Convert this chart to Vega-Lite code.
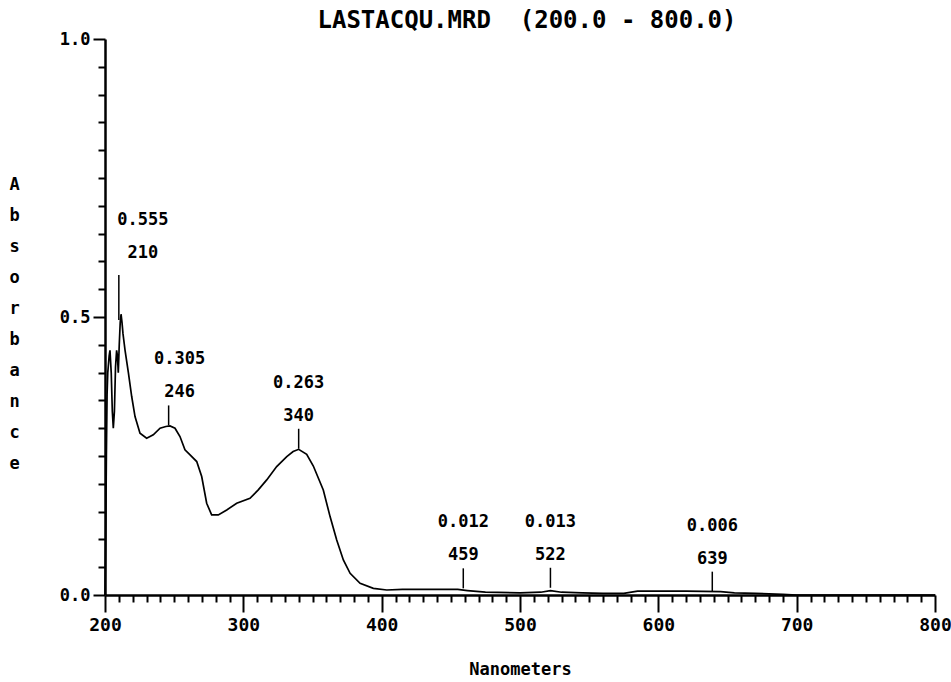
{
  "$schema": "https://vega.github.io/schema/vega-lite/v6.json",
  "width": 830,
  "height": 556,
  "autosize": {"type": "none"},
  "padding": {"left": 105, "top": 39, "right": 16, "bottom": 87},
  "background": "white",
  "config": {"view": {"stroke": null}, "font": "DejaVu Sans Mono"},
  "title": {"text": "LASTACQU.MRD\u00a0\u00a0(200.0 - 800.0)", "anchor": "middle", "dx": 7, "dy": 29, "offset": 7, "baseline": "alphabetic", "font": "DejaVu Sans Mono", "fontSize": 24, "fontWeight": "bold", "color": "black"},
  "datasets": {
    "spectrum": [
      {"nm": 200, "abs": 0.0}, {"nm": 200.5, "abs": 0.1}, {"nm": 201, "abs": 0.25}, {"nm": 201.5, "abs": 0.36},
      {"nm": 202, "abs": 0.4}, {"nm": 203, "abs": 0.43}, {"nm": 203.6, "abs": 0.44}, {"nm": 204.5, "abs": 0.4},
      {"nm": 205.3, "abs": 0.33}, {"nm": 206, "abs": 0.3}, {"nm": 206.8, "abs": 0.33}, {"nm": 207.6, "abs": 0.41},
      {"nm": 208.4, "abs": 0.44}, {"nm": 209, "abs": 0.43}, {"nm": 209.6, "abs": 0.4}, {"nm": 210.3, "abs": 0.45},
      {"nm": 211, "abs": 0.49}, {"nm": 211.6, "abs": 0.505}, {"nm": 212.3, "abs": 0.49}, {"nm": 213, "abs": 0.47},
      {"nm": 214.5, "abs": 0.44}, {"nm": 216.9, "abs": 0.4}, {"nm": 219.3, "abs": 0.357}, {"nm": 221.7, "abs": 0.321},
      {"nm": 225.3, "abs": 0.291}, {"nm": 230.1, "abs": 0.282}, {"nm": 234.9, "abs": 0.288}, {"nm": 239.8, "abs": 0.3},
      {"nm": 244, "abs": 0.303}, {"nm": 247, "abs": 0.304}, {"nm": 250.6, "abs": 0.3}, {"nm": 254.2, "abs": 0.285},
      {"nm": 257.8, "abs": 0.261}, {"nm": 261.5, "abs": 0.252}, {"nm": 266.3, "abs": 0.24}, {"nm": 269.9, "abs": 0.213},
      {"nm": 273.5, "abs": 0.165}, {"nm": 277.1, "abs": 0.144}, {"nm": 281.9, "abs": 0.144}, {"nm": 288, "abs": 0.153},
      {"nm": 295.2, "abs": 0.165}, {"nm": 304.8, "abs": 0.174}, {"nm": 310.8, "abs": 0.189}, {"nm": 316.9, "abs": 0.207},
      {"nm": 324.1, "abs": 0.231}, {"nm": 331.4, "abs": 0.249}, {"nm": 336, "abs": 0.258}, {"nm": 340, "abs": 0.262},
      {"nm": 345.8, "abs": 0.253}, {"nm": 350.6, "abs": 0.232}, {"nm": 357.8, "abs": 0.189}, {"nm": 362.7, "abs": 0.141},
      {"nm": 367.5, "abs": 0.099}, {"nm": 372.3, "abs": 0.063}, {"nm": 377.2, "abs": 0.039}, {"nm": 384.4, "abs": 0.021},
      {"nm": 394, "abs": 0.012}, {"nm": 403.7, "abs": 0.009}, {"nm": 415, "abs": 0.01}, {"nm": 440, "abs": 0.01},
      {"nm": 455, "abs": 0.01}, {"nm": 462, "abs": 0.008}, {"nm": 475, "abs": 0.005}, {"nm": 500, "abs": 0.004},
      {"nm": 515, "abs": 0.005}, {"nm": 522, "abs": 0.008}, {"nm": 530, "abs": 0.005}, {"nm": 545, "abs": 0.004},
      {"nm": 560, "abs": 0.003}, {"nm": 575, "abs": 0.003}, {"nm": 585, "abs": 0.007}, {"nm": 620, "abs": 0.007},
      {"nm": 645, "abs": 0.006}, {"nm": 655, "abs": 0.004}, {"nm": 670, "abs": 0.003}, {"nm": 690, "abs": 0.001},
      {"nm": 700, "abs": 0.0}, {"nm": 750, "abs": 0.0}, {"nm": 800, "abs": 0.0}
    ],
    "peaks": [
      {"nm": 210, "abs": 0.555}, {"nm": 246, "abs": 0.305}, {"nm": 340, "abs": 0.263},
      {"nm": 459, "abs": 0.012}, {"nm": 522, "abs": 0.013}, {"nm": 639, "abs": 0.006}
    ]
  },
  "layer": [
    {
      "data": {"name": "spectrum"},
      "mark": {"type": "line", "color": "black", "strokeWidth": 1.7},
      "encoding": {
        "x": {"field": "nm", "type": "quantitative", "scale": {"domain": [200, 800], "nice": false, "zero": false},
          "axis": {"orient": "bottom", "values": [200, 300, 400, 500, 600, 700, 800], "format": "d", "grid": false,
            "ticks": true, "tickSize": 17, "tickWidth": 2, "tickColor": "black", "tickOpacity": 1, "domainColor": "black", "domainWidth": 2.5,
            "labelFont": "DejaVu Sans Mono", "labelFontWeight": "bold", "labelFontSize": 18, "labelColor": "black",
            "labelPadding": 4, "labelFlush": false, "labelOverlap": false,
            "title": "Nanometers", "titleFont": "DejaVu Sans Mono", "titleFontWeight": "bold", "titleFontSize": 17, "titleColor": "black",
            "titleBaseline": "alphabetic", "titleY": 79}},
        "y": {"field": "abs", "type": "quantitative", "scale": {"domain": [0, 1], "nice": false, "zero": false},
          "axis": {"orient": "left", "values": [0, 0.5, 1], "format": ".1f", "grid": false,
            "ticks": true, "tickSize": 12, "tickWidth": 2, "tickColor": "black", "domainColor": "black", "domainWidth": 2.5,
            "labelFont": "DejaVu Sans Mono", "labelFontWeight": "bold", "labelFontSize": 17, "labelColor": "black",
            "labelPadding": 3, "labelFlush": false, "labelOverlap": false,
            "title": ["A", "b", "s", "o", "r", "b", "a", "n", "c", "e"], "titleAngle": 0, "titleAlign": "center",
            "titleBaseline": "alphabetic", "titleX": -91, "titleY": 150, "titleLineHeight": 31.1,
            "titleFont": "DejaVu Sans Mono", "titleFontWeight": "bold", "titleFontSize": 17, "titleColor": "black"}}
      }
    },
    {
      "data": {"name": "peaks"},
      "encoding": {
        "x": {"field": "nm", "type": "quantitative", "scale": {"domain": [200, 800], "nice": false, "zero": false},
          "axis": {"orient": "bottom", "values": [210,220,230,240,250,260,270,280,290,310,320,330,340,350,360,370,380,390,410,420,430,440,450,460,470,480,490,510,520,530,540,550,560,570,580,590,610,620,630,640,650,660,670,680,690,710,720,730,740,750,760,770,780,790],
            "ticks": true, "labels": false, "domain": false, "grid": false, "title": null, "tickSize": 7, "tickWidth": 2, "tickColor": "black", "tickOpacity": 1}},
        "y": {"field": "abs", "type": "quantitative", "scale": {"domain": [0, 1], "nice": false, "zero": false},
          "axis": {"orient": "left", "values": [0.05,0.1,0.15,0.2,0.25,0.3,0.35,0.4,0.45,0.55,0.6,0.65,0.7,0.75,0.8,0.85,0.9,0.95],
            "ticks": true, "labels": false, "domain": false, "grid": false, "title": null, "tickSize": 7, "tickWidth": 2, "tickColor": "black"}}
      },
      "layer": [
        {"transform": [{"filter": "datum.nm != 210"}],
          "mark": {"type": "tick", "orient": "vertical", "size": 20, "thickness": 1.5, "yOffset": -10, "color": "black", "opacity": 1}},
        {"transform": [{"filter": "datum.nm == 210"}],
          "mark": {"type": "tick", "orient": "vertical", "size": 45, "thickness": 1.5, "yOffset": 11, "color": "black", "opacity": 1}},
        {"transform": [{"filter": "datum.nm == 210"}],
          "mark": {"type": "text", "font": "DejaVu Sans Mono", "fontWeight": "bold", "fontSize": 17, "color": "black", "baseline": "middle", "dy": -66, "dx": 24},
          "encoding": {"text": {"field": "abs", "type": "quantitative", "format": ".3f"}}},
        {"transform": [{"filter": "datum.nm == 210"}],
          "mark": {"type": "text", "font": "DejaVu Sans Mono", "fontWeight": "bold", "fontSize": 17, "color": "black", "baseline": "middle", "dy": -33, "dx": 24},
          "encoding": {"text": {"field": "nm", "type": "quantitative", "format": "d"}}},
        {"transform": [{"filter": "datum.nm == 246"}],
          "mark": {"type": "text", "font": "DejaVu Sans Mono", "fontWeight": "bold", "fontSize": 17, "color": "black", "baseline": "middle", "dy": -66, "dx": 11},
          "encoding": {"text": {"field": "abs", "type": "quantitative", "format": ".3f"}}},
        {"transform": [{"filter": "datum.nm == 246"}],
          "mark": {"type": "text", "font": "DejaVu Sans Mono", "fontWeight": "bold", "fontSize": 17, "color": "black", "baseline": "middle", "dy": -33, "dx": 11},
          "encoding": {"text": {"field": "nm", "type": "quantitative", "format": "d"}}},
        {"transform": [{"filter": "datum.nm > 300"}],
          "mark": {"type": "text", "font": "DejaVu Sans Mono", "fontWeight": "bold", "fontSize": 17, "color": "black", "baseline": "middle", "dy": -66},
          "encoding": {"text": {"field": "abs", "type": "quantitative", "format": ".3f"}}},
        {"transform": [{"filter": "datum.nm > 300"}],
          "mark": {"type": "text", "font": "DejaVu Sans Mono", "fontWeight": "bold", "fontSize": 17, "color": "black", "baseline": "middle", "dy": -33},
          "encoding": {"text": {"field": "nm", "type": "quantitative", "format": "d"}}}
      ]
    }
  ],
  "resolve": {"axis": {"x": "independent", "y": "independent"}}
}
